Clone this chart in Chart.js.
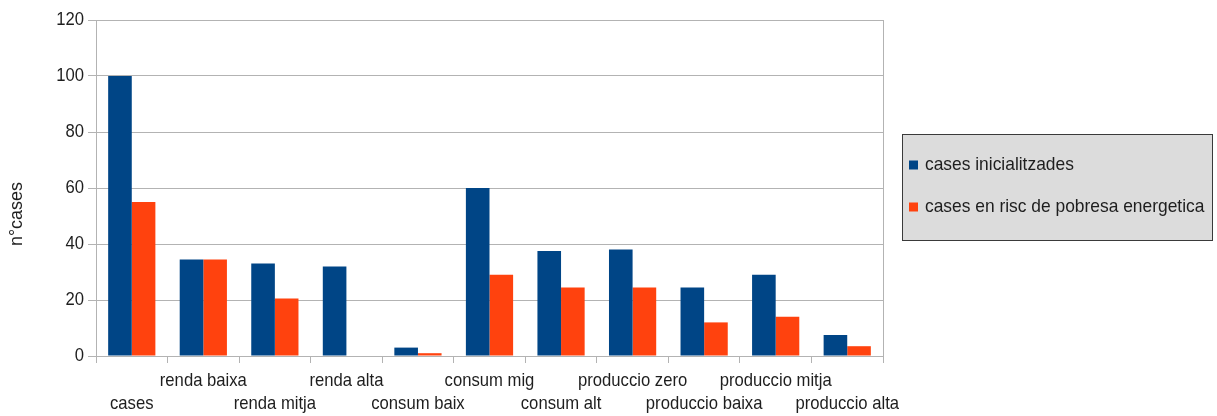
<!DOCTYPE html>
<html>
<head>
<meta charset="utf-8">
<script src="https://cdn.jsdelivr.net/npm/chart.js@4.4.0/dist/chart.umd.min.js"></script>
<style>
  html, body { margin: 0; padding: 0; background: #ffffff; }
  #wrap { width: 1217px; height: 416px; }
</style>
</head>
<body>
<div id="wrap"><canvas id="chart" width="1217" height="416"></canvas></div>
<script>
// Categories along the x axis
const categories = [
  'cases', 'renda baixa', 'renda mitja', 'renda alta', 'consum baix', 'consum mig',
  'consum alt', 'produccio zero', 'produccio baixa', 'produccio mitja', 'produccio alta'
];
// Series values
const casesInicialitzades = [100, 34.5, 33, 32, 3, 60, 37.5, 38, 24.5, 29, 7.5];
const casesEnRisc = [55, 34.5, 20.5, 0, 1, 29, 24.5, 24.5, 12, 14, 3.5];
const seriesNames = ['cases inicialitzades', 'cases en risc de pobresa energetica'];
const seriesColors = ['#004586', '#ff420e'];
// Value axis
const yMin = 0, yMax = 120, yStep = 20;
const yTitle = 'n\u00B0cases';

const labelFont = "'Liberation Sans', Arial, sans-serif";
const textColor = '#1e1e1e';
const gridColor = '#b3b3b3';

// Horizontal text is drawn slightly condensed (tall, narrow glyphs).
const TEXT_SQUEEZE = 0.9;
const LEGEND_SQUEEZE = 0.94;
const canvas = document.getElementById('chart');
const ctx2d = canvas.getContext('2d');
const rawFillText = ctx2d.fillText.bind(ctx2d);
const rawMeasureText = ctx2d.measureText.bind(ctx2d);
function squeezedText(ctx, text, x, y, k) {
  ctx.save();
  ctx.translate(x, y);
  ctx.scale(k, 1);
  rawFillText(text, 0, 0);
  ctx.restore();
}
ctx2d.fillText = function (text, x, y) {
  squeezedText(this, text, x, y, TEXT_SQUEEZE);
};
ctx2d.measureText = function (text) {
  const m = rawMeasureText(text);
  return {
    width: m.width * TEXT_SQUEEZE,
    actualBoundingBoxAscent: m.actualBoundingBoxAscent,
    actualBoundingBoxDescent: m.actualBoundingBoxDescent,
    actualBoundingBoxLeft: m.actualBoundingBoxLeft * TEXT_SQUEEZE,
    actualBoundingBoxRight: m.actualBoundingBoxRight * TEXT_SQUEEZE
  };
};

// Frame on the right edge of the plot area
const framePlugin = {
  id: 'frame',
  afterDraw(chart) {
    const { ctx, chartArea: a } = chart;
    ctx.save();
    ctx.strokeStyle = gridColor;
    ctx.lineWidth = 1;
    ctx.beginPath();
    ctx.moveTo(Math.round(a.right) + 0.5, a.top);
    ctx.lineTo(Math.round(a.right) + 0.5, a.bottom);
    ctx.stroke();
    ctx.restore();
  }
};

// Rotated value-axis title (regular proportions)
const yTitlePlugin = {
  id: 'yTitle',
  afterDraw(chart) {
    const { ctx, chartArea: a } = chart;
    ctx.save();
    ctx.translate(17, (a.top + chart.height) / 2 - 4);
    ctx.rotate(-Math.PI / 2);
    ctx.font = "18px 'Liberation Sans', Arial, sans-serif";
    ctx.fillStyle = textColor;
    ctx.textAlign = 'center';
    ctx.textBaseline = 'middle';
    rawFillText(yTitle, 0, 0);
    ctx.restore();
  }
};

// Boxed legend to the right of the plot
const boxLegendPlugin = {
  id: 'boxLegend',
  afterDraw(chart) {
    const { ctx, chartArea: a } = chart;
    const x0 = Math.round(a.right) + 19.5;
    const x1 = chart.width - 4.5;
    const y0 = 134.5, y1 = 240.5;
    ctx.save();
    ctx.fillStyle = '#dcdcdc';
    ctx.fillRect(x0, y0, x1 - x0, y1 - y0);
    ctx.strokeStyle = '#3a3a3a';
    ctx.lineWidth = 1;
    ctx.strokeRect(x0, y0, x1 - x0, y1 - y0);
    ctx.font = "18.5px " + labelFont;
    ctx.textBaseline = 'middle';
    ctx.textAlign = 'left';
    chart.data.datasets.forEach((ds, i) => {
      const cy = 165 + i * 42;
      ctx.fillStyle = ds.backgroundColor;
      ctx.fillRect(x0 + 6.5, cy - 4.5, 9, 9);
      ctx.fillStyle = textColor;
      squeezedText(ctx, ds.label, x0 + 22.5, cy, LEGEND_SQUEEZE);
    });
    ctx.restore();
  }
};

new Chart(canvas, {
  type: 'bar',
  data: {
    labels: categories,
    datasets: [
      { label: seriesNames[0], data: casesInicialitzades, backgroundColor: seriesColors[0] },
      { label: seriesNames[1], data: casesEnRisc, backgroundColor: seriesColors[1] }
    ]
  },
  options: {
    responsive: false,
    animation: false,
    events: [],
    layout: { padding: { top: 20, right: 334, bottom: 0, left: 0 } },
    datasets: { bar: { categoryPercentage: 0.66, barPercentage: 1.0, borderWidth: 0 } },
    plugins: {
      legend: { display: false },
      tooltip: { enabled: false }
    },
    scales: {
      x: {
        offset: true,
        afterFit(scale) { scale.height = 60; },
        grid: { offset: true, drawOnChartArea: false, drawTicks: true, tickLength: 7, color: gridColor },
        border: { display: true, color: gridColor },
        ticks: {
          autoSkip: false,
          maxRotation: 0,
          minRotation: 0,
          padding: 6.5,
          color: textColor,
          font: { family: labelFont, size: 18.5, lineHeight: 1.243 },
          // alternate labels between two rows
          callback(value, index) {
            const name = categories[index];
            return index % 2 === 0 ? ['', name] : [name, ''];
          }
        }
      },
      y: {
        min: yMin,
        max: yMax,
        afterFit(scale) { scale.width = 96; },
        grid: { color: gridColor, tickLength: 8 },
        border: { display: true, color: gridColor },
        ticks: {
          stepSize: yStep,
          padding: 4,
          color: textColor,
          font: { family: labelFont, size: 18.5, lineHeight: 1.243 }
        }
      }
    }
  },
  plugins: [framePlugin, yTitlePlugin, boxLegendPlugin]
});
</script>
</body>
</html>
